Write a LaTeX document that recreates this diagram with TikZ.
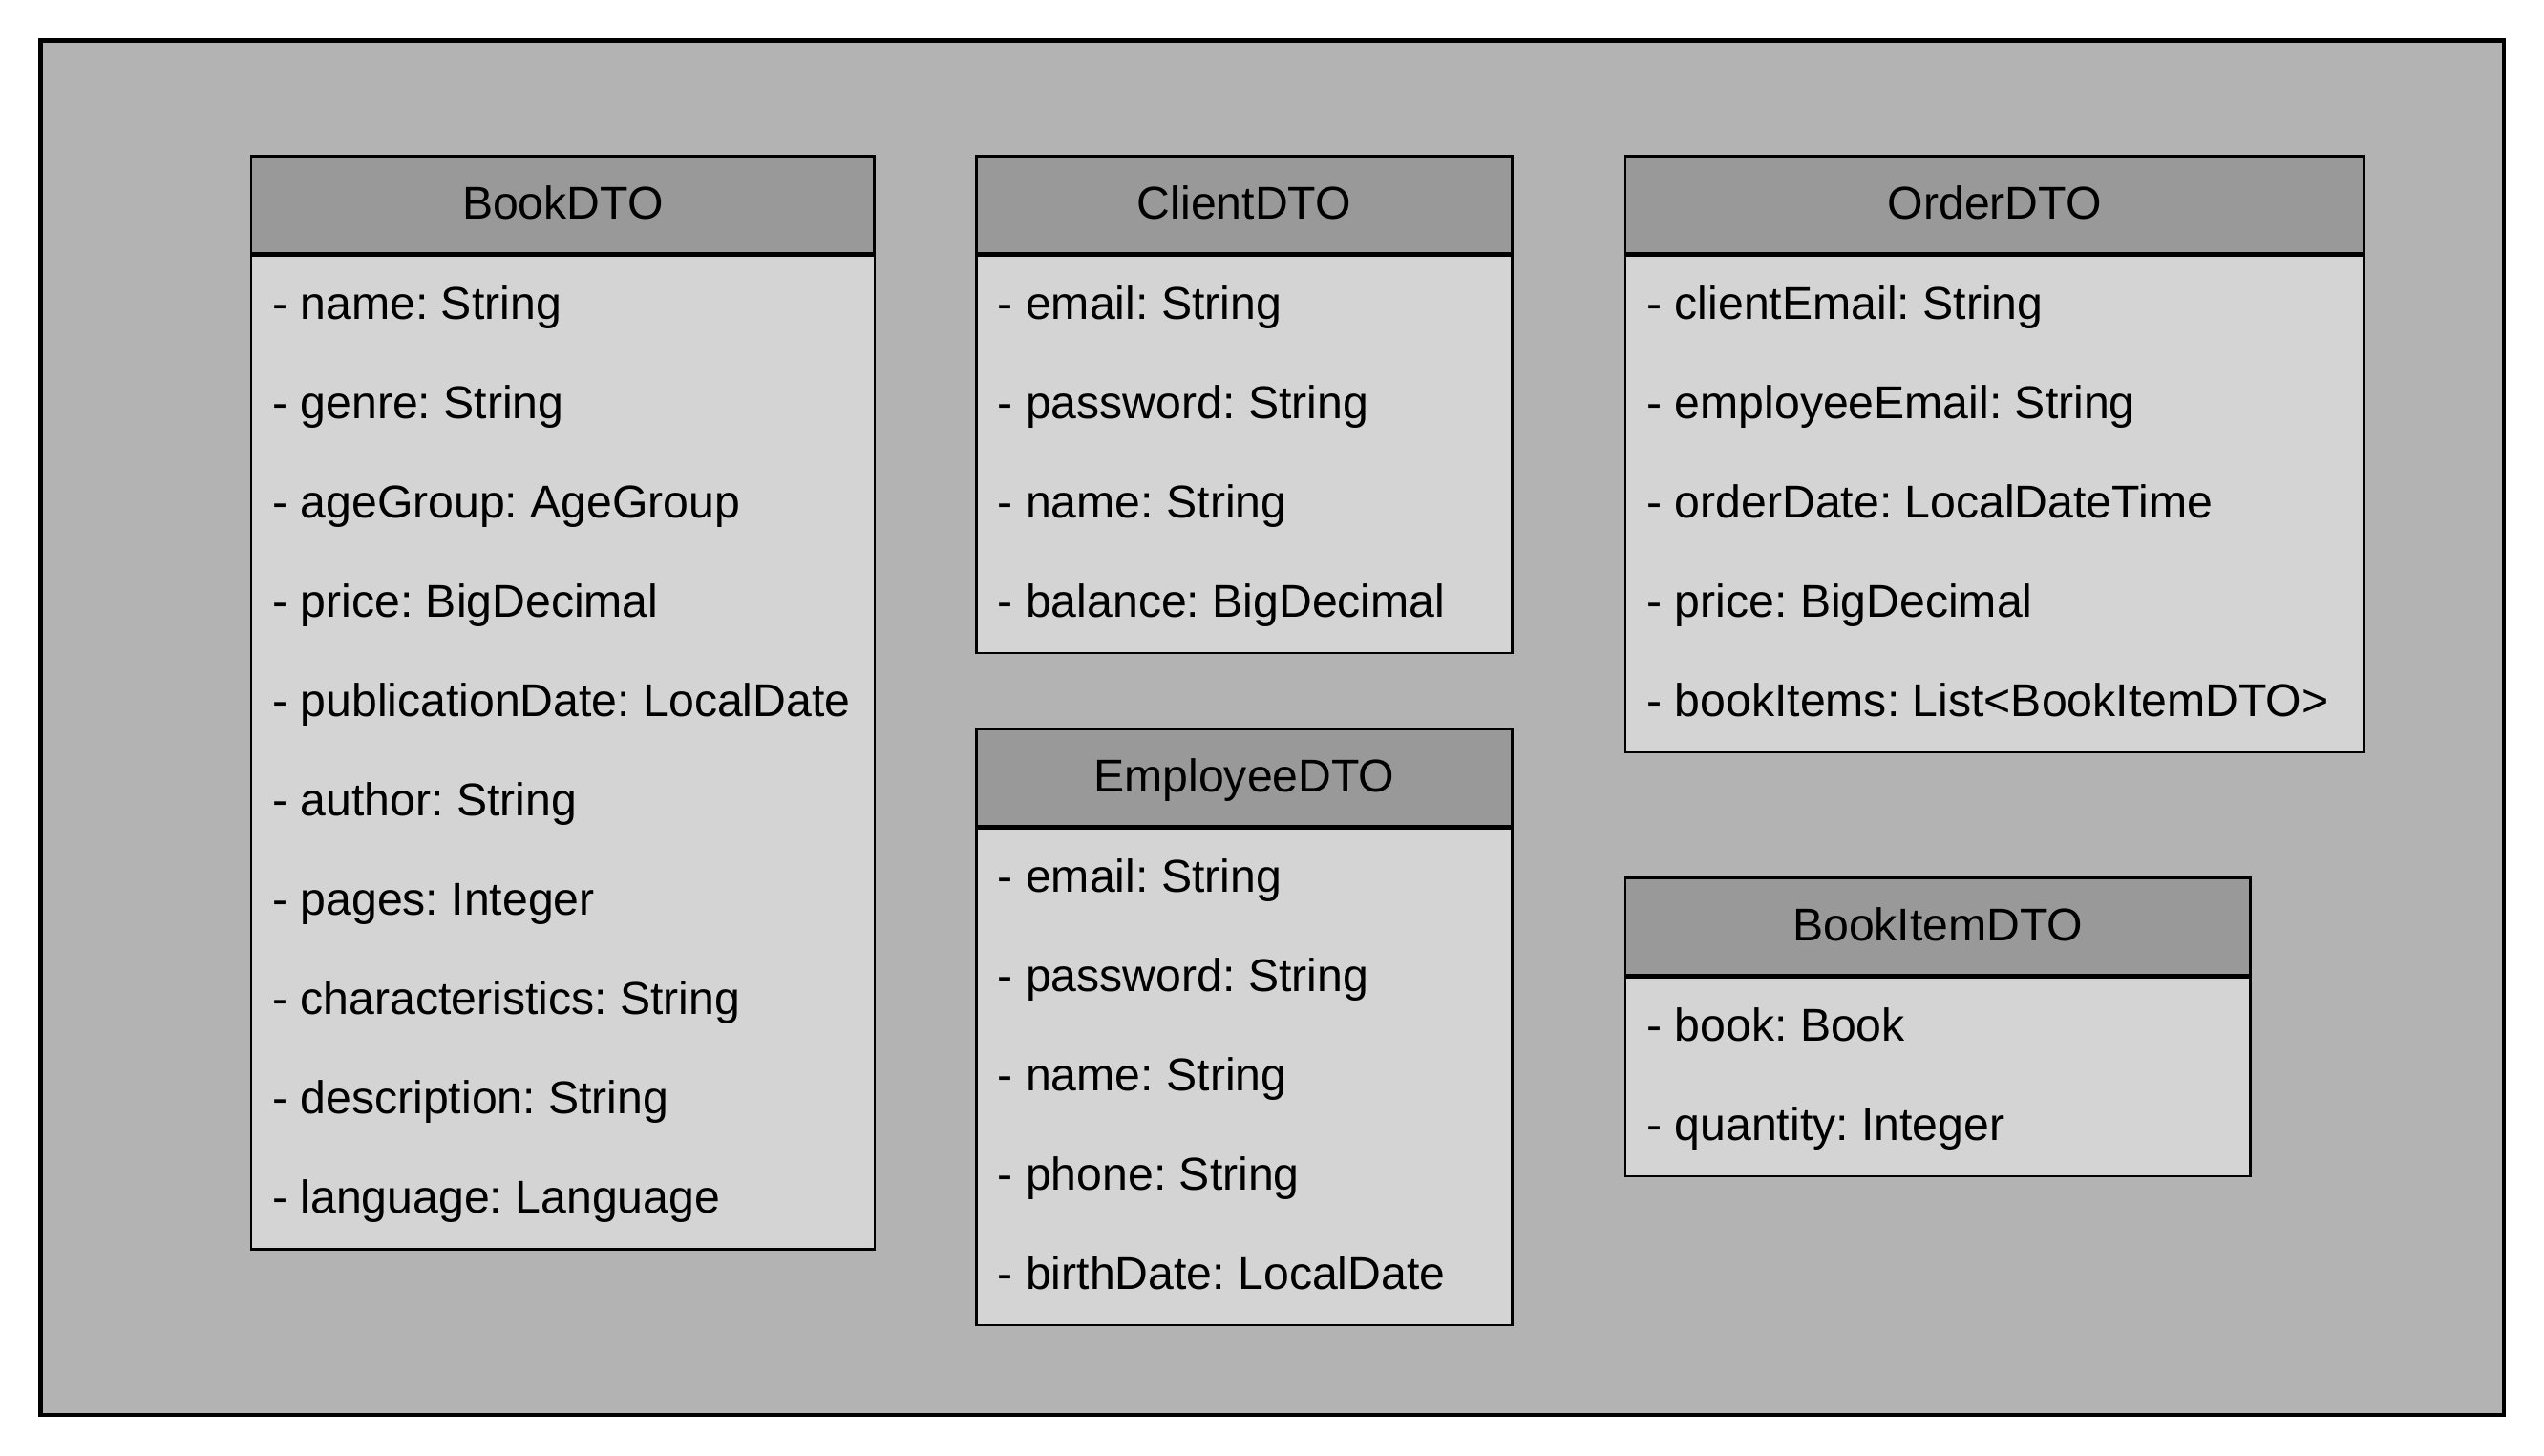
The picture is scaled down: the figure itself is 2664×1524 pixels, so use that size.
\documentclass[tikz,border=0pt]{standalone}
\usepackage{fontspec}
\setmainfont{Liberation Sans}
\usetikzlibrary{shapes,positioning}
\frenchspacing

\definecolor{framegray}{HTML}{B3B3B3}
\definecolor{headgray}{HTML}{999999}
\definecolor{bodygray}{HTML}{D4D4D4}

\begin{document}
\begin{tikzpicture}[x=0.01cm,y=-0.01cm,
  head/.style={shape=rectangle,draw=black,fill=headgray,line width=0.75pt,anchor=north west,minimum height=1.02cm,inner sep=0pt,text height=0.86em,text depth=0pt,font=\fontsize{13.7}{16}\selectfont},
  body/.style={shape=rectangle,draw=black,fill=bodygray,line width=0.7pt,inner sep=0pt,below=0pt of #1},
  attr/.style={anchor=west,inner sep=0pt,text height=0.86em,text depth=0pt,font=\fontsize{13.7}{16}\selectfont}]
\useasboundingbox (0,0) rectangle (2664,1524);
\draw[draw=black,fill=framegray,line width=1.15pt] (42.5,42.5) rectangle (2621.5,1481.5);

\node[head,minimum width=6.525cm] (book) at (261.6,162) {BookDTO};
\node[body=book,minimum width=6.525cm,minimum height=10.40cm] (bookbody) {};
\node[attr] (b1) at (284.6,319) {- name: String};
\node[attr] (b2) at (284.6,423) {- genre: String};
\node[attr] (b3) at (284.6,527) {- ageGroup: AgeGroup};
\node[attr] (b4) at (284.6,631) {- price: BigDecimal};
\node[attr] (b5) at (284.6,735) {- publicationDate: LocalDate};
\node[attr] (b6) at (284.6,839) {- author: String};
\node[attr] (b7) at (284.6,943) {- pages: Integer};
\node[attr] (b8) at (284.6,1047) {- characteristics: String};
\node[attr] (b9) at (284.6,1151) {- description: String};
\node[attr] (b10) at (284.6,1255) {- language: Language};

\node[head,minimum width=5.607cm] (client) at (1021.1,162) {ClientDTO};
\node[body=client,minimum width=5.607cm,minimum height=4.16cm] (clientbody) {};
\node[attr] (c1) at (1044.1,319) {- email: String};
\node[attr] (c2) at (1044.1,423) {- password: String};
\node[attr] (c3) at (1044.1,527) {- name: String};
\node[attr] (c4) at (1044.1,631) {- balance: BigDecimal};

\node[head,minimum width=5.607cm] (employee) at (1021.1,762) {EmployeeDTO};
\node[body=employee,minimum width=5.607cm,minimum height=5.20cm] (employeebody) {};
\node[attr] (e1) at (1044.1,919) {- email: String};
\node[attr] (e2) at (1044.1,1023) {- password: String};
\node[attr] (e3) at (1044.1,1127) {- name: String};
\node[attr] (e4) at (1044.1,1231) {- phone: String};
\node[attr] (e5) at (1044.1,1335) {- birthDate: LocalDate};

\node[head,minimum width=7.73cm] (order) at (1700.7,162) {OrderDTO};
\node[body=order,minimum width=7.73cm,minimum height=5.20cm] (orderbody) {};
\node[attr] (o1) at (1723.7,319) {- clientEmail: String};
\node[attr] (o2) at (1723.7,423) {- employeeEmail: String};
\node[attr] (o3) at (1723.7,527) {- orderDate: LocalDateTime};
\node[attr] (o4) at (1723.7,631) {- price: BigDecimal};
\node[attr] (o5) at (1723.7,735) {- bookItems: List<BookItemDTO>};

\node[head,minimum width=6.541cm] (bookitem) at (1700.7,918) {BookItemDTO};
\node[body=bookitem,minimum width=6.541cm,minimum height=2.08cm] (bookitembody) {};
\node[attr] (i1) at (1723.7,1075) {- book: Book};
\node[attr] (i2) at (1723.7,1179) {- quantity: Integer};
\end{tikzpicture}
\end{document}
